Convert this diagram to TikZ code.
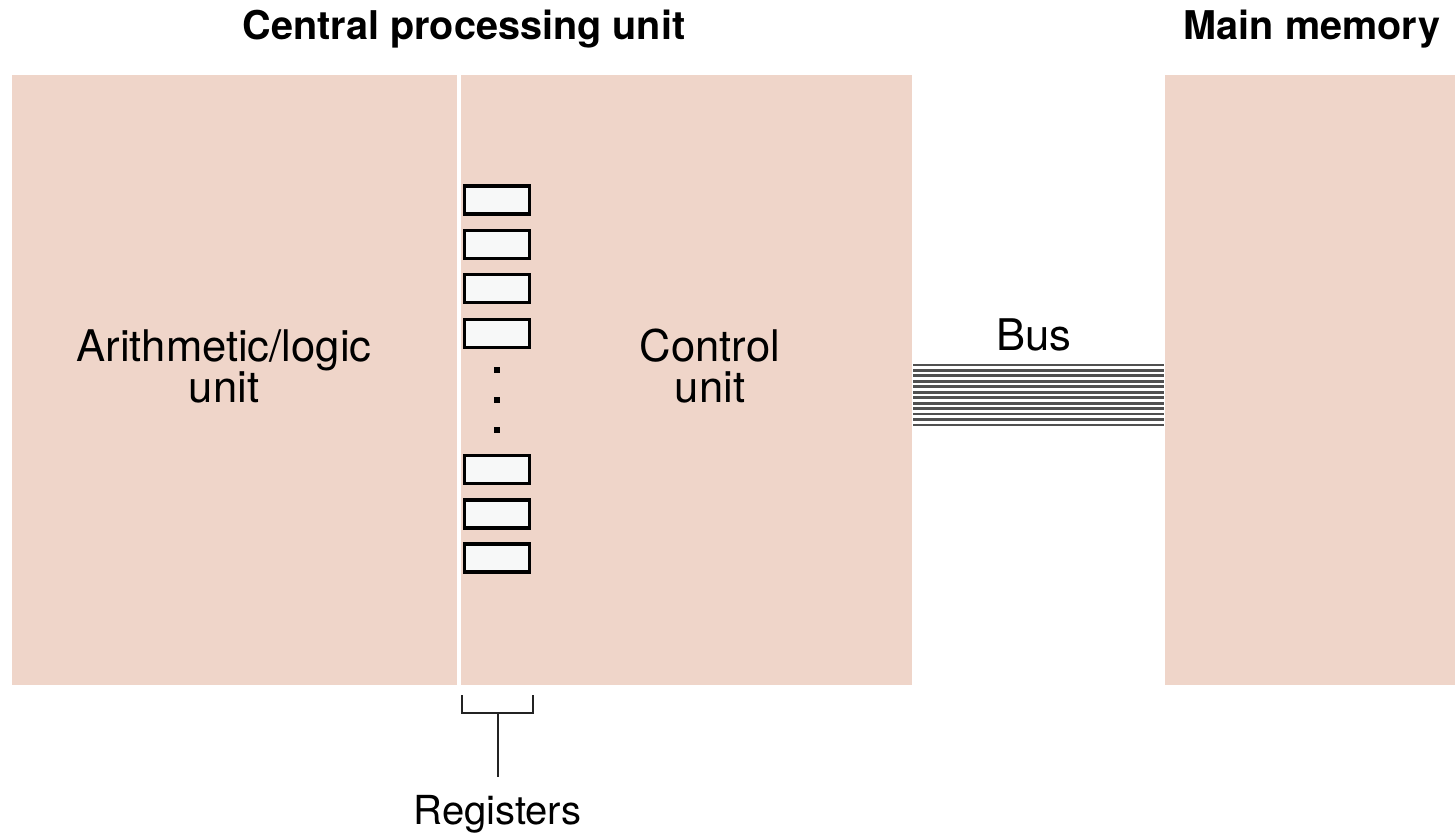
\documentclass[tikz,border=0pt]{standalone}
\usepackage{fontspec}
\setmainfont{TeX Gyre Heros}
\definecolor{boxfill}{RGB}{239,213,201}
\definecolor{regfill}{RGB}{247,248,248}
\definecolor{busline}{RGB}{80,80,80}
\definecolor{ink}{RGB}{35,35,35}
\begin{document}
\begin{tikzpicture}[x=0.5pt,y=-0.5pt,
  unitbox/.style={fill=boxfill, draw=none, anchor=north west, inner sep=0pt},
  regbox/.style={draw=black, line width=1.9pt, fill=regfill, minimum width=32.5pt, minimum height=14pt, inner sep=0pt},
  title/.style={font=\fontsize{19.8pt}{20pt}\selectfont\bfseries, anchor=base, inner sep=0pt},
  label/.style={font=\fontsize{21.8pt}{20.5pt}\selectfont, align=center, anchor=base, inner sep=0pt},
  busstyle/.style={draw=busline, line width=1.4pt},
  bracket/.style={draw=ink, line width=1pt},
  regdot/.style={fill=black, minimum size=2.6pt, inner sep=0pt}
]
\useasboundingbox (0,0) rectangle (1455,833);
% CPU and memory boxes
\node[unitbox, minimum width=450pt, minimum height=305pt] (cpu) at (12,75) {};
\node[unitbox, minimum width=145pt, minimum height=305pt] (mem) at (1165,75) {};
\draw[white, line width=2pt] (459,75) -- (459,685);
% titles
\node[title] (cputitle) at (464,40) {Central processing unit};
\node[title] (memtitle) at (1312,40) {Main memory};
% labels (base anchor = baseline of the last line)
\node[label] (alu) at (224,403) {Arithmetic/logic\\unit};
\node[label] (cu) at (710,403) {Control\\unit};
\node[label] (bus) at (1034,351) {Bus};
% registers
\foreach \n/\y in {1/200,2/244.5,3/288.5,4/333.5,5/469.5,6/514,7/558}
  \node[regbox] (r\n) at (497,\y) {};
\foreach \n/\y in {1/370,2/400,3/430}
  \node[regdot] (d\n) at (497,\y) {};
% bus lines
\foreach \i in {0,...,11}
  \draw[busstyle] (913,{365+\i*5.45}) -- (1164,{365+\i*5.45});
% bracket
\coordinate (bl) at (462,695);
\coordinate (br) at (533,695);
\coordinate (bm) at (497.5,713);
\node[label, font=\fontsize{20pt}{20pt}\selectfont] (regs) at (497.5,824) {Registers};
\draw[bracket] (bl) -- (bl |- bm) -- (br |- bm) -- (br);
\draw[bracket] (bm) -- (regs.north |- 0,777);
\end{tikzpicture}
\end{document}
